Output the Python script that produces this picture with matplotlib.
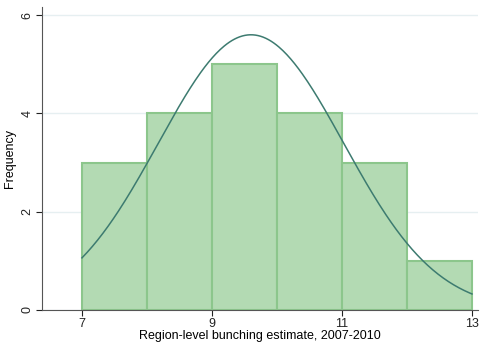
import numpy as np
import matplotlib.pyplot as plt

plt.rcParams['font.family'] = ['Liberation Sans', 'DejaVu Sans']

bin_edges = [7, 8, 9, 10, 11, 12, 13]
counts = [3, 4, 5, 4, 3, 1]
curve_mean = 9.6
curve_sd = 1.425
n_obs = 20

fig = plt.figure(figsize=(4.8, 3.44), dpi=100)
ax = fig.add_axes([0.0875, 0.099, 0.908, 0.88])

ax.bar(bin_edges[:-1], counts, width=1, align='edge',
       color='#b3dab3', edgecolor='#8cc68c', linewidth=1.5, zorder=2)

xs = np.linspace(7, 13, 300)
ys = n_obs * 1.0 / (curve_sd * np.sqrt(2 * np.pi)) * np.exp(-0.5 * ((xs - curve_mean) / curve_sd) ** 2)
ax.plot(xs, ys, color='#3d7b70', linewidth=1.1, zorder=3)

ax.set_xlim(6.385, 13.09)
ax.set_ylim(0, 6.16)
ax.set_xticks([7, 9, 11, 13])
ax.set_yticks([0, 2, 4, 6])
ax.set_yticklabels(['0', '2', '4', '6'], rotation=90, va='center')
ax.grid(axis='y', color='#e6eff1', linewidth=1, zorder=0)
ax.set_axisbelow(True)
for s in ['top', 'right']:
    ax.spines[s].set_visible(False)
for s in ['left', 'bottom']:
    ax.spines[s].set_color('#555555')
ax.tick_params(colors='#222222', labelsize=9, length=4, pad=2)
ax.set_xlabel('Region-level bunching estimate, 2007-2010', fontsize=9, labelpad=0)
ax.set_ylabel('Frequency', fontsize=9, labelpad=4)

fig.savefig('out.png')
